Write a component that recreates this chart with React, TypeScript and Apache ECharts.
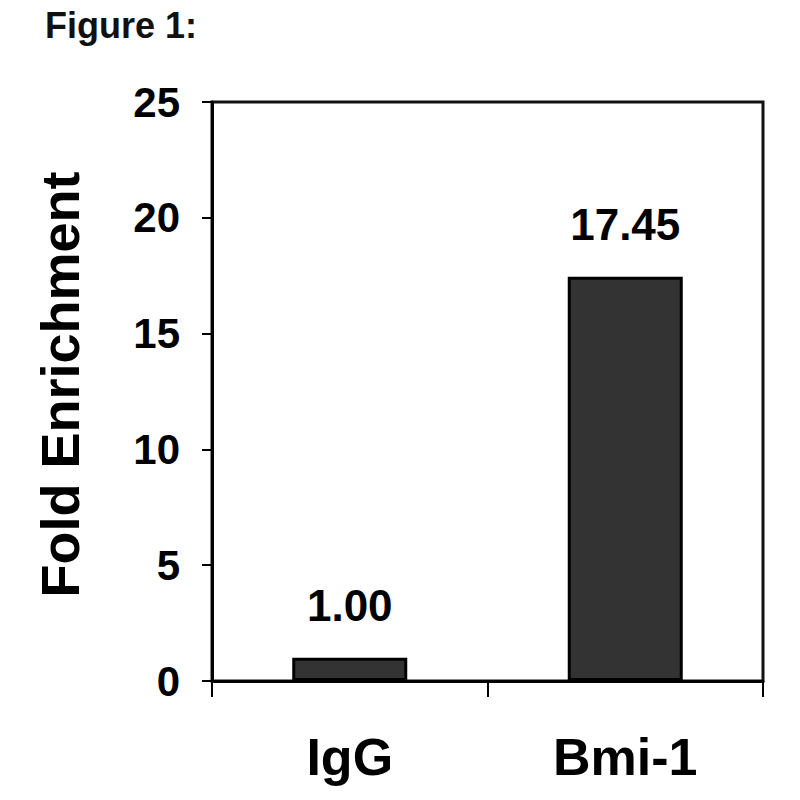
import React, { useEffect, useRef } from "react";
import * as echarts from "echarts";

const categories = ["IgG", "Bmi-1"];
const values = [1.0, 17.45];
const valueLabels = ["1.00", "17.45"];
const yTicks = { min: 0, max: 25, interval: 5 };

export default function App() {
  const ref = useRef<HTMLDivElement>(null);
  useEffect(() => {
    if (!ref.current) return;
    const chart = echarts.init(ref.current, null, { renderer: "svg" });
    const font = "'Liberation Sans', Arial, sans-serif";
    chart.setOption({
      animation: false,
      backgroundColor: "#ffffff",
      title: {
        text: "Figure 1:",
        left: 40,
        top: 2,
        textStyle: { fontFamily: font, fontSize: 36, fontWeight: "bold", color: "#111" },
      },
      grid: {
        left: 212,
        right: 37,
        top: 102,
        bottom: 119,
        show: true,
        borderColor: "#111",
        borderWidth: 3,
        backgroundColor: "transparent",
      },
      xAxis: {
        type: "category",
        data: categories,
        axisLine: { show: true, lineStyle: { color: "#000", width: 3 } },
        axisTick: { show: true, length: 16, lineStyle: { color: "#000", width: 2 } },
        axisLabel: {
          fontFamily: font,
          fontSize: 52,
          fontWeight: "bold",
          color: "#000",
          margin: 50,
        },
        splitLine: { show: false },
      },
      yAxis: {
        type: "value",
        min: yTicks.min,
        max: yTicks.max,
        interval: yTicks.interval,
        name: "Fold Enrichment",
        nameLocation: "middle",
        nameGap: 125,
        nameTextStyle: {
          fontFamily: font,
          fontSize: 54,
          fontWeight: "bold",
          color: "#000",
          padding: [0, 0, 0, 14],
        },
        axisLine: { show: true, lineStyle: { color: "#000", width: 3 } },
        axisTick: { show: true, length: 10, lineStyle: { color: "#000", width: 2 } },
        axisLabel: {
          fontFamily: font,
          fontSize: 42,
          fontWeight: "bold",
          color: "#000",
          margin: 32,
        },
        splitLine: { show: false },
      },
      series: [
        {
          type: "bar",
          data: values,
          barWidth: 115,
          itemStyle: { color: "#333333", borderColor: "#000", borderWidth: 3 },
          label: {
            show: true,
            position: "top",
            distance: 30,
            formatter: (p: any) => valueLabels[p.dataIndex],
            fontFamily: font,
            fontSize: 44,
            fontWeight: "bold",
            color: "#000",
          },
        },
      ],
    });
    return () => chart.dispose();
  }, []);
  return (
    <div
      ref={ref}
      style={{ position: "absolute", left: 0, top: 0, width: 800, height: 800 }}
    />
  );
}
